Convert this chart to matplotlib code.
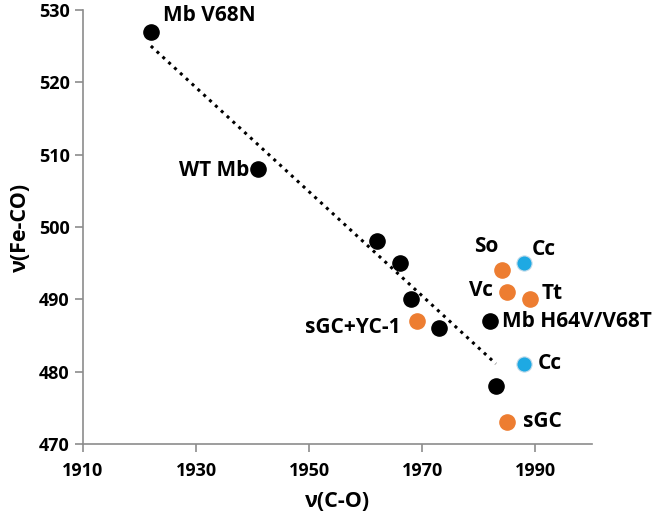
import numpy as np
import matplotlib
matplotlib.use('Agg')
import matplotlib.pyplot as plt

plt.rcParams['font.family'] = ['Open Sans', 'DejaVu Sans']
plt.rcParams['font.weight'] = 'bold'

# black: Mb variants (used for the trend line)
black_x = [1922, 1941, 1962, 1966, 1968, 1973, 1982, 1983]
black_y = [527, 508, 498, 495, 490, 486, 487, 478]
black_labels = ['Mb V68N', 'WT Mb', '', '', '', '', 'Mb H64V/V68T', '']

# orange: sGC / H-NOX
orange_x = [1969, 1984, 1985, 1989, 1985]
orange_y = [487, 494, 491, 490, 473]
orange_labels = ['sGC+YC-1', 'So', 'Vc', 'Tt', 'sGC']

# blue: Cc
blue_x = [1988, 1988]
blue_y = [495, 481]
blue_labels = ['Cc', 'Cc']

fig = plt.figure(figsize=(6.61, 5.2), dpi=100)
ax = fig.add_axes([0.1256, 0.1462, 0.77, 0.8346])

# linear trend over the black points
k, b = np.polyfit(black_x, black_y, 1)
xs = np.array([min(black_x), max(black_x)])
ax.plot(xs, k * xs + b, color='black', linestyle=(0, (1, 1.6)), linewidth=2.2, zorder=2)

ax.scatter(black_x, black_y, s=120, color='black', zorder=3)
ax.scatter(orange_x, orange_y, s=120, color='#ED7D31', zorder=3)
ax.scatter(blue_x, blue_y, s=120, color='#1EA9E3', edgecolors='#C5DCEA', linewidths=0.8, zorder=3)

# label offsets in points (dx, dy, ha)
offs = {
    'black': [(9, 11.5, 'left'), (-6.5, -0.7, 'right'), None, None, None, None,
              (8.6, -0.7, 'left'), None],
    'orange': [(-11.5, -5, 'right'), (-10.8, 17.3, 'center'), (-10, 1.2, 'right'),
               (8.6, 4.5, 'left'), (11.5, 0.7, 'left')],
    'blue': [(5.8, 10, 'left'), (10, 0.7, 'left')],
}
groups = [('black', black_x, black_y, black_labels),
          ('orange', orange_x, orange_y, orange_labels),
          ('blue', blue_x, blue_y, blue_labels)]
for name, xv, yv, lab in groups:
    for i, t in enumerate(lab):
        if not t:
            continue
        dx, dy, ha = offs[name][i]
        ax.annotate(t, (xv[i], yv[i]), xytext=(dx, dy), textcoords='offset points',
                    ha=ha, va='center', fontsize=15, fontweight='bold')

ax.set_xlim(1910, 2000)
ax.set_ylim(470, 530)
ax.set_xticks([1910, 1930, 1950, 1970, 1990])
ax.set_yticks(range(470, 531, 10))
for s in ['top', 'right']:
    ax.spines[s].set_visible(False)
for s in ['left', 'bottom']:
    ax.spines[s].set_color('#8c8c8c')
    ax.spines[s].set_linewidth(1.2)
ax.tick_params(colors='#8c8c8c', labelcolor='black', labelsize=13, length=6, width=1.2)
ax.tick_params(axis='x', pad=7)
for lbl in ax.get_xticklabels() + ax.get_yticklabels():
    lbl.set_fontweight('bold')

ax.set_xlabel('ν(C-O)', fontsize=15.5, fontweight='bold', labelpad=8)
ax.set_ylabel('ν(Fe-CO)', fontsize=15.5, fontweight='bold', labelpad=6)

fig.savefig('out.png', dpi=100)
